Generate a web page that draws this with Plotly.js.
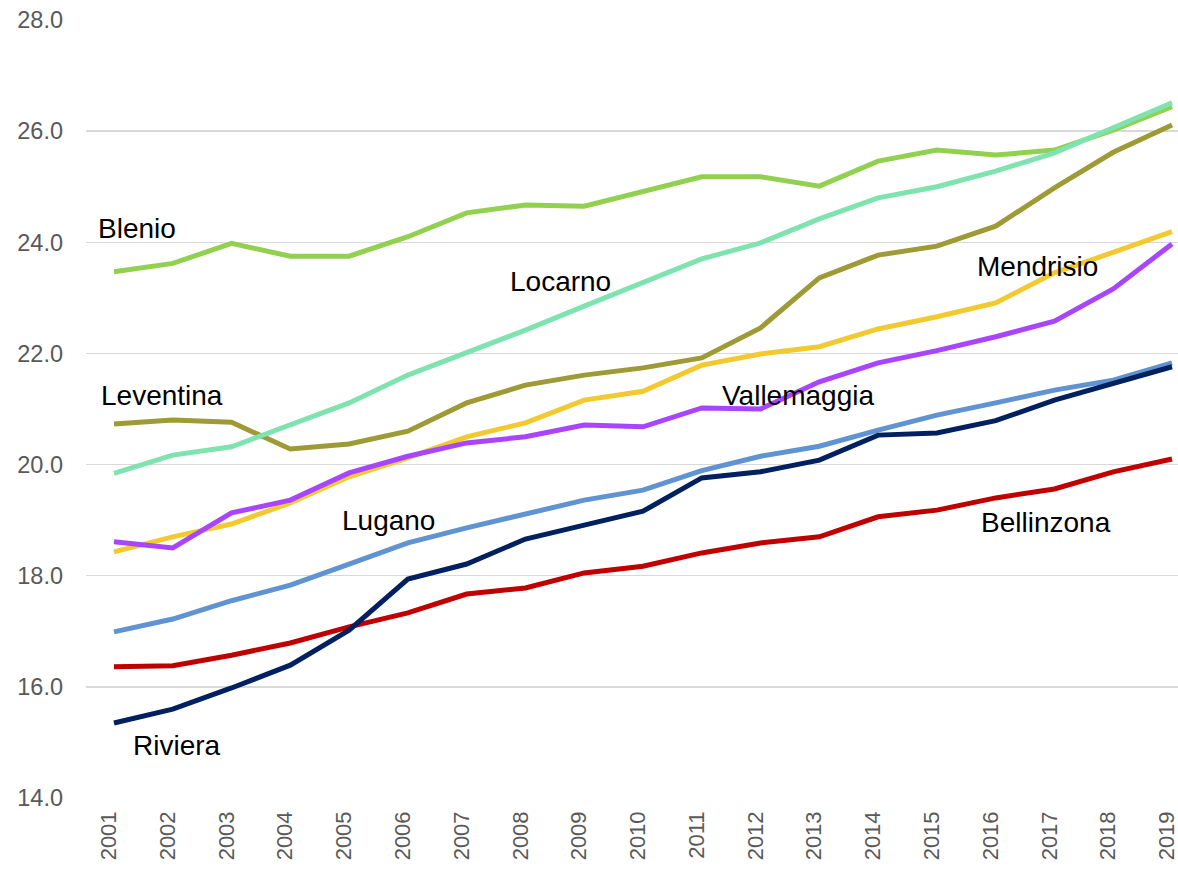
<!DOCTYPE html>
<html>
<head>
<meta charset="utf-8">
<script src="https://cdn.plot.ly/plotly-3.0.1.min.js"></script>
<style>html,body{margin:0;padding:0;background:#fff;}#chart{width:1178px;height:869px;}</style>
</head>
<body>
<div id="chart"></div>
<script>
var years = ["2001","2002","2003","2004","2005","2006","2007","2008","2009","2010","2011","2012","2013","2014","2015","2016","2017","2018","2019"];

var blenio     = [23.47,23.62,23.98,23.75,23.75,24.10,24.53,24.67,24.65,24.91,25.18,25.18,25.01,25.46,25.66,25.57,25.66,26.02,26.44];
var locarno    = [19.84,20.17,20.32,20.71,21.11,21.61,22.01,22.42,22.85,23.27,23.70,23.99,24.42,24.80,25.00,25.28,25.61,26.06,26.51];
var leventina  = [20.73,20.80,20.76,20.28,20.37,20.60,21.11,21.43,21.61,21.74,21.92,22.46,23.36,23.77,23.93,24.29,24.98,25.62,26.11];
var mendrisio  = [18.43,18.70,18.93,19.31,19.78,20.12,20.50,20.75,21.16,21.32,21.79,21.99,22.12,22.44,22.66,22.91,23.45,23.81,24.19];
var vallemaggia= [18.61,18.50,19.13,19.36,19.85,20.15,20.39,20.50,20.71,20.68,21.02,21.00,21.49,21.83,22.05,22.30,22.58,23.16,23.97];
var lugano     = [16.99,17.22,17.55,17.83,18.21,18.59,18.86,19.11,19.36,19.54,19.89,20.15,20.33,20.62,20.89,21.11,21.34,21.52,21.83];
var riviera    = [15.35,15.60,15.98,16.39,17.02,17.94,18.21,18.66,18.91,19.16,19.76,19.87,20.08,20.53,20.57,20.79,21.16,21.47,21.76];
var bellinzona = [16.36,16.38,16.57,16.79,17.08,17.33,17.67,17.78,18.05,18.17,18.41,18.59,18.70,19.06,19.18,19.40,19.56,19.87,20.10];

var yTicks = [14,16,18,20,22,24,26,28];
var yTickText = ["14.0","16.0","18.0","20.0","22.0","24.0","26.0","28.0"];

var series = [
  {name:"Bellinzona", y:bellinzona, color:"#C00000", lx:15.86, ly:18.95},
  {name:"Lugano", y:lugano, color:"#5F93D1", lx:4.67, ly:19.00},
  {name:"Riviera", y:riviera, color:"#002060", lx:1.07, ly:14.95},
  {name:"Mendrisio", y:mendrisio, color:"#F2CA30", lx:15.71, ly:23.56},
  {name:"Vallemaggia", y:vallemaggia, color:"#A944FF", lx:11.64, ly:21.25},
  {name:"Leventina", y:leventina, color:"#9E9A36", lx:0.81, ly:21.25},
  {name:"Blenio", y:blenio, color:"#92D050", lx:0.39, ly:24.24},
  {name:"Locarno", y:locarno, color:"#7FE3AF", lx:7.59, ly:23.29}
];

var traces = series.map(function(s){
  return {x:years, y:s.y, type:"scatter", mode:"lines", name:s.name,
          line:{color:s.color, width:5}, hoverinfo:"x+y+name"};
});

var annotations = series.map(function(s){
  return {x:s.lx, y:s.ly, xref:"x", yref:"y", text:s.name, showarrow:false,
          xanchor:"center", yanchor:"middle",
          font:{family:"Liberation Sans, Arial, sans-serif", size:28, color:"#000000"}};
});

var layout = {
  width:1178, height:869,
  margin:{l:86, r:0, t:20, b:71, pad:0},
  paper_bgcolor:"#ffffff", plot_bgcolor:"#ffffff",
  showlegend:false,
  font:{family:"Liberation Sans, Arial, sans-serif", color:"#595959"},
  xaxis:{type:"category", range:[-0.476, 18.102], showgrid:false, zeroline:false,
         showline:false, ticks:"", tickangle:-90, ticklabelshift:-5, ticklabelstandoff:8,
         tickfont:{size:22, color:"#595959"}},
  yaxis:{range:[14,28], tickvals:yTicks, ticktext:yTickText, showgrid:true,
         gridcolor:"#D9D9D9", gridwidth:1.3, zeroline:false, showline:false, ticks:"",
         ticklabelstandoff:22,
         tickfont:{size:23.5, color:"#595959"}},
  annotations:annotations
};

Plotly.newPlot("chart", traces, layout, {displayModeBar:false, staticPlot:true});
</script>
</body>
</html>
